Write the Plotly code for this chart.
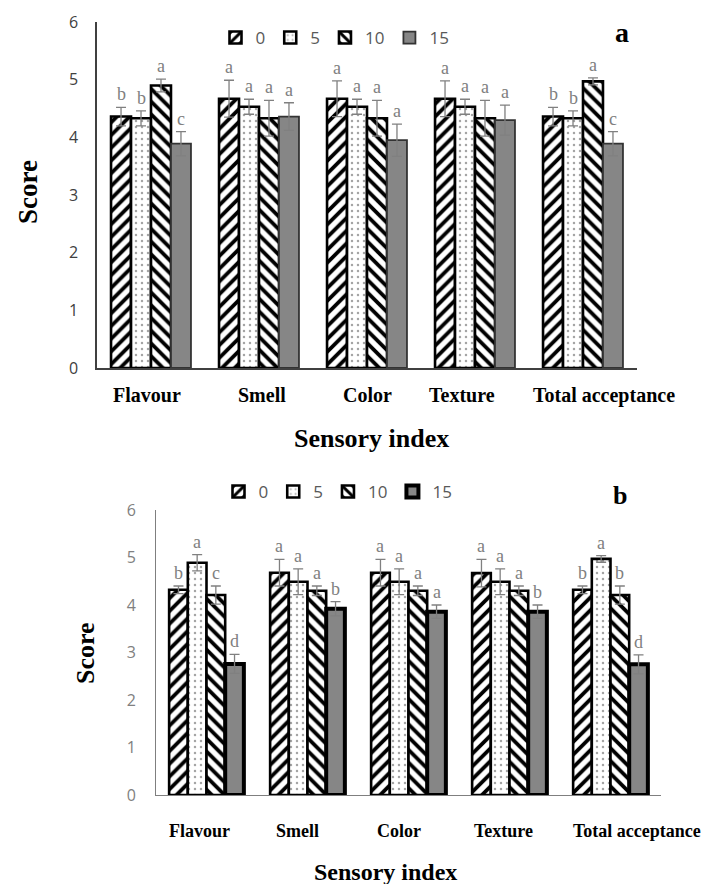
import plotly.graph_objects as go

# ---------------- data ----------------
categories = ["Flavour", "Smell", "Color", "Texture", "Total acceptance"]
series_names = ["0", "5", "10", "15"]

# panel a
a_0 = [4.36, 4.67, 4.67, 4.67, 4.36]
a_5 = [4.33, 4.53, 4.53, 4.53, 4.33]
a_10 = [4.90, 4.33, 4.33, 4.33, 4.97]
a_15 = [3.89, 4.36, 3.95, 4.30, 3.89]
a_err_0 = [0.16, 0.32, 0.31, 0.31, 0.16]
a_err_5 = [0.13, 0.13, 0.13, 0.13, 0.13]
a_err_10 = [0.11, 0.31, 0.31, 0.31, 0.06]
a_err_15 = [0.21, 0.24, 0.28, 0.26, 0.21]
a_let_0 = ["b", "a", "a", "a", "b"]
a_let_5 = ["b", "a", "a", "a", "b"]
a_let_10 = ["a", "a", "a", "a", "a"]
a_let_15 = ["c", "a", "a", "a", "c"]

# panel b
b_0 = [4.32, 4.68, 4.68, 4.67, 4.32]
b_5 = [4.89, 4.49, 4.49, 4.49, 4.97]
b_10 = [4.21, 4.30, 4.30, 4.30, 4.21]
b_15 = [2.76, 3.92, 3.86, 3.86, 2.75]
b_err_0 = [0.08, 0.28, 0.28, 0.29, 0.08]
b_err_5 = [0.17, 0.27, 0.27, 0.27, 0.07]
b_err_10 = [0.19, 0.10, 0.10, 0.10, 0.19]
b_err_15 = [0.20, 0.15, 0.14, 0.14, 0.20]
b_let_0 = ["b", "a", "a", "a", "b"]
b_let_5 = ["a", "a", "a", "a", "a"]
b_let_10 = ["c", "a", "a", "a", "b"]
b_let_15 = ["d", "b", "a", "b", "d"]

y_ticks = [0, 1, 2, 3, 4, 5, 6]

# ---------------- styling ----------------
W, H = 710, 884
OFF = 8  # page body margin compensation
BARGAP = 0.26
NSER = 4
BW = (1 - BARGAP) / NSER
GRAY_TXT = "#595959"
SERIF = "Liberation Serif"
SANS = "Open Sans"

label_shift_a = [-0.04, 0.03, 0.0, -0.12, 0.19]
label_shift_b = [-0.07, -0.10, -0.09, -0.06, 0.26]


def px_x(px):
    return (px - OFF) / W


def px_y(py):
    return 1 - (py - OFF) / H


fig = go.Figure()

xs = list(range(len(categories)))


def add_panel(vals, errs, xaxis, yaxis, legend, thick15):
    hatch = dict(fgcolor="black", bgcolor="white", size=9, solidity=0.42,
                 fgopacity=1, fillmode="replace")
    styles = [
        dict(color="white", line=dict(color="black", width=2.6),
             pattern=dict(shape="/", **hatch)),
        dict(color="white", line=dict(color="black", width=2.6),
             pattern=dict(shape=".", fgcolor="#a5a5a5", bgcolor="white", size=6,
                          solidity=0.13, fgopacity=1, fillmode="replace")),
        dict(color="white", line=dict(color="black", width=2.6),
             pattern=dict(shape="\\", **hatch)),
        dict(color="#868686", line=dict(color="black" if thick15 else "#333333",
                                       width=4 if thick15 else 1.8)),
    ]
    for name, v, e, st in zip(series_names, vals, errs, styles):
        fig.add_trace(go.Bar(
            x=xs, y=v, name=name, marker=st,
            error_y=dict(type="data", array=e, visible=True, color="#808080",
                         thickness=1.3, width=5),
            xaxis=xaxis, yaxis=yaxis, legend=legend,
        ))


add_panel([a_0, a_5, a_10, a_15], [a_err_0, a_err_5, a_err_10, a_err_15],
          "x", "y", "legend", False)
add_panel([b_0, b_5, b_10, b_15], [b_err_0, b_err_5, b_err_10, b_err_15],
          "x2", "y2", "legend2", True)

annotations = []


def add_letters(vals, errs, lets, xref, yref):
    for j, (v, e, L) in enumerate(zip(vals, errs, lets)):
        for i in xs:
            annotations.append(dict(
                x=i + (j - (NSER - 1) / 2) * BW, y=v[i] + e[i], xref=xref, yref=yref,
                text=L[i], showarrow=False, xanchor="center", yanchor="bottom", yshift=1,
                font=dict(family=SERIF, size=18, color="#808080")))


add_letters([a_0, a_5, a_10, a_15], [a_err_0, a_err_5, a_err_10, a_err_15],
            [a_let_0, a_let_5, a_let_10, a_let_15], "x", "y")
add_letters([b_0, b_5, b_10, b_15], [b_err_0, b_err_5, b_err_10, b_err_15],
            [b_let_0, b_let_5, b_let_10, b_let_15], "x2", "y2")


def txt(x, y, text, size, xref="paper", angle=0):
    return dict(x=x, y=y, xref=xref, yref="paper", text=text, showarrow=False,
                xanchor="center", yanchor="middle", textangle=angle,
                font=dict(family=SERIF, size=size, color="black", weight="bold"))


# category labels
for i, c in enumerate(categories):
    annotations.append(txt(i + label_shift_a[i], px_y(395), c, 20, xref="x"))
    annotations.append(txt(i + label_shift_b[i], px_y(831), c, 18, xref="x2"))

# axis titles and panel letters
annotations += [
    txt(px_x(371), px_y(438), "Sensory index", 26),
    txt(px_x(386), px_y(872), "Sensory index", 24),
    txt(px_x(28), px_y(192), "Score", 27, angle=-90),
    txt(px_x(85), px_y(653), "Score", 26, angle=-90),
    txt(px_x(622), px_y(32), "a", 28),
    txt(px_x(620), px_y(495), "b", 26),
]

axis_common = dict(showgrid=False, zeroline=False, ticks="", automargin=False)

fig.update_layout(
    width=W, height=H, margin=dict(l=0, r=0, t=0, b=0, autoexpand=False),
    paper_bgcolor="white", plot_bgcolor="white",
    barmode="group", bargap=BARGAP, bargroupgap=0,
    xaxis=dict(domain=[px_x(97), px_x(637)], range=[-0.5, 4.5], showticklabels=False,
               showline=True, linecolor="#404040", linewidth=1.5, anchor="y", **axis_common),
    yaxis=dict(domain=[px_y(368), px_y(22)], range=[0, 6], tickvals=y_ticks,
               showline=True, linecolor="#404040", linewidth=1.5, anchor="x",
               tickfont=dict(family=SANS, size=16, color="#404040"),
               ticklabelstandoff=14, **axis_common),
    xaxis2=dict(domain=[px_x(156), px_x(661)], range=[-0.5, 4.5], showticklabels=False,
                showline=True, linecolor="#7f7f7f", linewidth=1, anchor="y2", **axis_common),
    yaxis2=dict(domain=[px_y(795), px_y(510)], range=[0, 6], tickvals=y_ticks,
                showline=True, linecolor="#7f7f7f", linewidth=1, anchor="x2",
                tickfont=dict(family=SANS, size=16, color="#808080"),
                ticklabelstandoff=16, **axis_common),
    legend=dict(orientation="h", x=px_x(335), y=px_y(38), xanchor="center", yanchor="middle",
                font=dict(family=SANS, size=17, color=GRAY_TXT), bgcolor="rgba(0,0,0,0)",
                itemwidth=30, tracegroupgap=0),
    legend2=dict(orientation="h", x=px_x(338), y=px_y(492), xanchor="center", yanchor="middle",
                 font=dict(family=SANS, size=17, color=GRAY_TXT), bgcolor="rgba(0,0,0,0)",
                 itemwidth=30, tracegroupgap=0),
    annotations=annotations,
    showlegend=True,
)

fig.write_html("out.html")
